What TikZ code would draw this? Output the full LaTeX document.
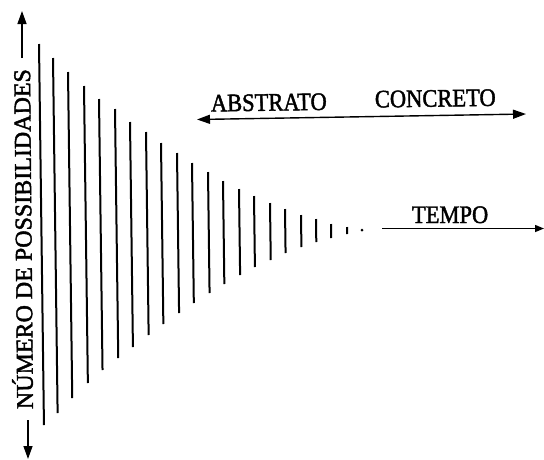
\documentclass[tikz,border=0pt]{standalone}
\usepackage{fontspec}
\setmainfont{Liberation Serif}
\newfontfamily\scanfont[FakeBold=1.8]{Liberation Serif}
\usetikzlibrary{arrows.meta}
\newcommand{\htxt}[1]{\scalebox{1}[1.12]{\scanfont\fontsize{22.5}{26}\selectfont #1}}
\begin{document}
\begin{tikzpicture}[x=1pt,y=-1pt,
  bar/.style={line width=2pt},
  axis/.style={line width=1.4pt},
  head/.tip={Triangle[length=13pt,width=9pt]},
  tip/.style={-head},
  lbl/.style={inner sep=0pt,outer sep=0pt}]
\useasboundingbox (0,0) rectangle (544,459);
% bars
\foreach \x/\t/\b [count=\i] in {39/44/425,53/58/413,68/72/398,84/86/383,99/99/370,
  115/109/358,130/122/347,146/132/335,161/143/324,177/153/313,192/163/303,
  208/172/293,223/181/284,239/189/275,254/196/267,270/203/260,285/209/253,
  301/215/247,316/219/242,331/224/238,347/227/234}{
  \coordinate (t\i) at (\x,\t);
  \coordinate (b\i) at ({\x+0.013*(\b-\t)},\b);
  \draw[bar] (t\i) -- (b\i);
}
\fill (362,230) circle (1.5pt);
% vertical axis label and arrows
\node[lbl,anchor=base west,rotate=90.5] (vlab) at (33,409)
  {\scanfont\fontsize{24}{28}\selectfont NÚMERO DE POSSIBILIDADES};
\coordinate (up0) at (22,58);
\coordinate (up1) at (22,11);
\coordinate (dn0) at (28,420);
\coordinate (dn1) at (28,459);
\draw[axis,tip] (up0) -- (up1);
\draw[axis,tip] (dn0) -- (dn1);
% abstract / concrete
\node[lbl,anchor=base west,rotate=0.8] (abs) at (211,111.5) {\htxt{ABSTRATO}};
\node[lbl,anchor=base west,rotate=0.8] (con) at (375,107.5) {\htxt{CONCRETO}};
\coordinate (ac0) at (197,119.5);
\coordinate (ac1) at (526,114);
\draw[axis,head-head] (ac0) -- (ac1);
% time
\node[lbl,anchor=base west] (tempo) at (412,223) {\htxt{TEMPO}};
\coordinate (tm0) at (382,228.5);
\coordinate (tm1) at (544,228.5);
\draw[axis,-{Triangle[length=9pt,width=7pt]}] (tm0) -- (tm1);
\end{tikzpicture}
\end{document}
